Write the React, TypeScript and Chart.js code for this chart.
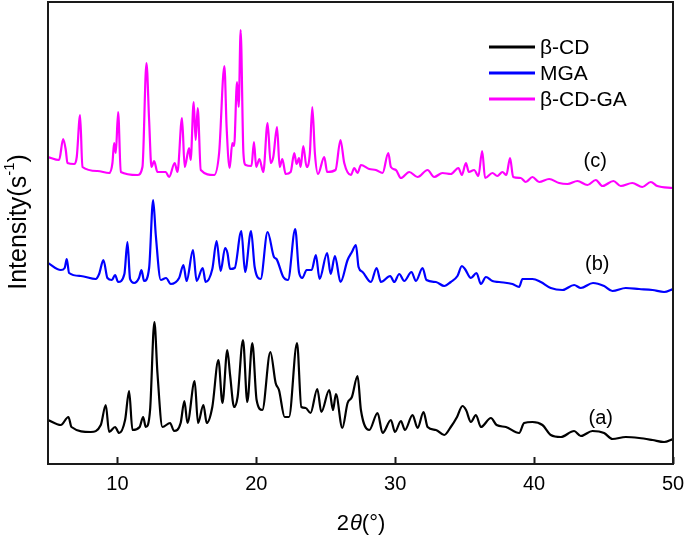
import { useEffect, useRef } from 'react';
import { Chart, registerables } from 'chart.js';

Chart.register(...registerables);

// ---------- data (2θ in degrees, intensity in arbitrary units incl. vertical offset) ----------
const thetaA = [5.0, 5.92, 6.47, 6.69, 8.08, 8.8, 9.16, 9.4, 9.83, 10.12, 10.55, 10.84, 11.08, 11.6, 11.85, 12.04, 12.35, 12.66, 12.88, 13.24, 13.79, 14.08, 14.55, 14.82, 15.04, 15.56, 15.8, 16.19, 16.43, 16.83, 17.27, 17.56, 17.91, 18.11, 18.4, 18.65, 19.04, 19.35, 19.71, 20.02, 20.43, 21.01, 21.39, 21.63, 22.04, 22.35, 22.93, 23.24, 23.55, 23.9, 24.39, 24.68, 25.25, 25.52, 25.73, 26.19, 26.57, 26.88, 27.29, 27.53, 28.13, 28.73, 29.09, 29.69, 29.98, 30.41, 30.7, 31.25, 31.61, 32.04, 32.33, 32.93, 33.53, 34.0, 34.45, 34.84, 35.1, 35.45, 35.81, 36.17, 36.89, 37.3, 37.97, 38.92, 39.28, 39.88, 40.6, 41.2, 41.92, 42.88, 43.36, 44.2, 45.04, 45.64, 46.6, 47.56, 48.52, 49.36, 50.0];
const intensityA = [44, 39, 47, 37, 32, 39, 59, 32, 37, 31, 44, 73, 34, 37, 47, 37, 54, 142, 91, 37, 41, 33, 41, 63, 41, 83, 41, 59, 41, 57, 104, 61, 114, 89, 57, 67, 124, 62, 121, 64, 54, 112, 81, 74, 47, 47, 121, 57, 56, 51, 75, 52, 74, 54, 70, 36, 61, 67, 88, 54, 34, 51, 31, 44, 32, 43, 34, 49, 36, 52, 37, 34, 29, 37, 47, 58, 54, 42, 49, 37, 46, 39, 37, 31, 41, 42, 39, 29, 27, 33, 28, 33, 31, 25, 27, 26, 24, 22, 25];

const thetaB = [5.0, 5.92, 6.2, 6.35, 6.52, 7.36, 8.44, 8.68, 8.99, 9.28, 9.6, 9.83, 10.05, 10.5, 10.72, 10.91, 11.2, 11.55, 11.73, 11.92, 12.28, 12.57, 12.76, 13.12, 13.5, 13.84, 14.44, 14.75, 14.98, 15.44, 15.7, 16.14, 16.35, 16.83, 17.14, 17.43, 17.75, 17.92, 18.11, 18.44, 18.92, 19.19, 19.62, 19.88, 20.31, 20.81, 21.27, 21.45, 21.94, 22.28, 22.8, 23.07, 23.31, 23.62, 23.98, 24.29, 24.55, 25.1, 25.35, 25.66, 26.06, 26.57, 26.88, 27.17, 27.36, 27.65, 28.25, 28.66, 28.97, 29.64, 29.93, 30.29, 30.65, 31.17, 31.49, 31.97, 32.25, 32.93, 33.53, 34.0, 34.48, 34.8, 35.02, 35.45, 35.85, 36.17, 36.53, 37.0, 37.48, 38.44, 38.92, 39.16, 39.88, 40.48, 41.2, 42.04, 42.88, 43.36, 44.24, 45.04, 45.64, 46.6, 47.56, 48.52, 49.36, 50.0];
const intensityB = [201, 194, 196, 205, 191, 188, 185, 190, 204, 186, 184, 189, 182, 190, 222, 185, 181, 186, 194, 183, 196, 264, 229, 184, 186, 180, 186, 199, 183, 214, 183, 196, 182, 195, 223, 193, 216, 211, 195, 196, 233, 192, 233, 197, 185, 232, 207, 205, 187, 184, 235, 192, 186, 194, 194, 209, 185, 211, 190, 208, 182, 204, 212, 219, 197, 192, 182, 196, 182, 188, 182, 190, 183, 192, 183, 196, 184, 182, 178, 182, 188, 198, 195, 186, 191, 180, 187, 183, 182, 180, 177, 185, 185, 182, 176, 174, 179, 176, 181, 178, 173, 176, 175, 174, 172, 175];

const thetaC = [5.0, 5.8, 6.09, 6.28, 6.4, 6.88, 7.07, 7.31, 7.48, 8.56, 9.4, 9.64, 9.76, 9.88, 10.05, 10.24, 11.44, 11.8, 12.09, 12.28, 12.45, 12.64, 12.88, 13.47, 13.72, 14.12, 14.32, 14.65, 14.84, 15.16, 15.27, 15.49, 15.63, 15.78, 16.0, 16.96, 17.32, 17.7, 17.86, 18.08, 18.27, 18.4, 18.61, 18.73, 18.87, 19.07, 19.23, 19.65, 19.83, 19.99, 20.22, 20.5, 20.81, 21.03, 21.22, 21.49, 21.68, 21.87, 22.11, 22.47, 22.73, 22.9, 23.07, 23.19, 23.38, 23.62, 23.85, 24.03, 24.22, 24.44, 24.89, 25.1, 25.7, 26.06, 26.33, 26.81, 27.05, 27.29, 27.53, 28.13, 28.61, 29.09, 29.5, 29.69, 30.05, 30.41, 31.01, 31.61, 32.33, 32.8, 33.4, 34.0, 34.55, 34.8, 35.09, 35.3, 35.68, 35.99, 36.26, 36.47, 37.0, 37.35, 37.72, 38.0, 38.27, 38.49, 39.04, 39.4, 39.88, 40.36, 41.08, 41.8, 42.4, 43.12, 43.84, 44.44, 44.92, 45.71, 46.24, 47.07, 47.79, 48.4, 48.87, 50.0];
const intensityC = [307, 304, 325, 314, 301, 300, 307, 349, 297, 293, 291, 301, 321, 311, 352, 292, 289, 297, 401, 344, 297, 303, 292, 292, 287, 301, 292, 346, 297, 316, 304, 362, 324, 356, 294, 289, 311, 398, 337, 296, 321, 318, 382, 357, 434, 311, 299, 298, 322, 297, 305, 292, 341, 301, 307, 337, 297, 305, 290, 292, 311, 300, 306, 297, 318, 297, 310, 357, 310, 290, 307, 292, 294, 324, 301, 289, 296, 291, 299, 295, 294, 291, 311, 297, 294, 286, 292, 287, 294, 287, 291, 290, 296, 289, 301, 292, 294, 288, 313, 286, 291, 288, 292, 289, 306, 287, 286, 282, 287, 282, 285, 281, 280, 283, 279, 284, 278, 283, 278, 281, 277, 282, 278, 276];

const seriesLabels = ['β-CD', 'MGA', 'β-CD-GA'];
const seriesColors = ['#000000', '#0000ff', '#ff00ff'];
const curveTags = ['(a)', '(b)', '(c)'];
const tagTheta = [44.8, 44.55, 44.4];
const tagIntensity = [46, 200, 303];
const xTickValues = [10, 20, 30, 40, 50];

const FONT = "'Liberation Sans', Arial, Helvetica, sans-serif";

const decorPlugin = {
  id: 'decor',
  afterDatasetsDraw(chart: any) {
    const { ctx, chartArea: a, scales } = chart;
    const xs = scales.x;
    const ys = scales.y;
    ctx.save();
    // frame
    ctx.strokeStyle = '#1a1a1a';
    ctx.lineWidth = 2;
    ctx.strokeRect(a.left, a.top, a.right - a.left, a.bottom - a.top);
    // inward tick marks
    ctx.beginPath();
    for (const v of xTickValues) {
      const px = Math.round(xs.getPixelForValue(v)) + 0.5;
      ctx.moveTo(px, a.bottom);
      ctx.lineTo(px, a.bottom - 7);
    }
    ctx.stroke();

    // legend
    const legX1 = 489, legX2 = 535, legY0 = 47, legDy = 26;
    ctx.font = `21px ${FONT}`;
    ctx.textBaseline = 'middle';
    ctx.textAlign = 'left';
    seriesLabels.forEach((lab, i) => {
      const y = legY0 + i * legDy;
      ctx.strokeStyle = seriesColors[i];
      ctx.lineWidth = 3;
      ctx.beginPath();
      ctx.moveTo(legX1, y);
      ctx.lineTo(legX2, y);
      ctx.stroke();
      ctx.fillStyle = '#000';
      ctx.fillText(lab, legX2 + 5, y + 1);
    });

    // curve tags
    ctx.font = `20px ${FONT}`;
    ctx.textAlign = 'center';
    curveTags.forEach((t, i) => {
      ctx.fillText(t, xs.getPixelForValue(tagTheta[i]), ys.getPixelForValue(tagIntensity[i]));
    });

    // y title: Intensity(s^-1) with real superscript
    ctx.save();
    ctx.translate(19, 222);
    ctx.rotate(-Math.PI / 2);
    const yParts = [
      { t: 'Intensity(s', f: `25px ${FONT}`, dy: 0 },
      { t: '-1', f: `15px ${FONT}`, dy: -9 },
      { t: ')', f: `25px ${FONT}`, dy: 0 },
    ];
    let yTot = 0;
    const yW = yParts.map((p) => {
      ctx.font = p.f;
      const w = ctx.measureText(p.t).width;
      yTot += w;
      return w;
    });
    let yx = -yTot / 2;
    ctx.textAlign = 'left';
    yParts.forEach((p, i) => {
      ctx.font = p.f;
      ctx.fillText(p.t, yx, p.dy);
      yx += yW[i];
    });
    ctx.restore();

    // x title: 2θ(°) with italic θ
    const parts = [
      { t: '2', f: `22px ${FONT}` },
      { t: 'θ', f: `italic 22px ${FONT}` },
      { t: '(°)', f: `22px ${FONT}` },
    ];
    let total = 0;
    const widths = parts.map((p) => {
      ctx.font = p.f;
      const w = ctx.measureText(p.t).width;
      total += w;
      return w;
    });
    let cx = (a.left + a.right) / 2 - total / 2;
    ctx.textAlign = 'left';
    parts.forEach((p, i) => {
      ctx.font = p.f;
      ctx.fillText(p.t, cx, 524);
      cx += widths[i] + (i === 0 ? 1 : 0);
    });
    ctx.restore();
  },
};

export default function App() {
  const ref = useRef<HTMLCanvasElement | null>(null);
  useEffect(() => {
    document.body.style.margin = '0';
    const canvas = ref.current;
    if (!canvas) return;
    const mk = (th: number[], iv: number[]) => th.map((x, i) => ({ x, y: iv[i] }));
    const chart = new Chart(canvas, {
      type: 'line',
      data: {
        datasets: [
          { label: seriesLabels[0], data: mk(thetaA, intensityA), borderColor: seriesColors[0] },
          { label: seriesLabels[1], data: mk(thetaB, intensityB), borderColor: seriesColors[1] },
          { label: seriesLabels[2], data: mk(thetaC, intensityC), borderColor: seriesColors[2] },
        ].map((d) => ({ ...d, borderWidth: 2.2, pointRadius: 0, cubicInterpolationMode: 'monotone', fill: false })),
      },
      options: {
        animation: false,
        responsive: false,
        devicePixelRatio: 1,
        layout: { padding: { left: 48, right: 12, top: 2, bottom: 0 } },
        plugins: { legend: { display: false }, tooltip: { enabled: false } },
        scales: {
          x: {
            type: 'linear',
            min: 5,
            max: 50,
            grid: { display: false, drawTicks: false },
            border: { display: false },
            ticks: { font: { size: 20, family: FONT }, color: '#000', padding: 8, maxRotation: 0, autoSkip: false },
            afterBuildTicks: (s: any) => {
              s.ticks = xTickValues.map((v) => ({ value: v }));
            },
            afterFit: (s: any) => {
              s.height = 74;
              s.paddingLeft = 0;
              s.paddingRight = 0;
            },
          },
          y: { type: 'linear', min: 0, max: 462, display: false },
        },
      },
      plugins: [decorPlugin],
    });
    return () => chart.destroy();
  }, []);
  return (
    <div style={{ width: 685, height: 538 }}>
      <canvas ref={ref} width={685} height={538} style={{ display: 'block' }} />
    </div>
  );
}
